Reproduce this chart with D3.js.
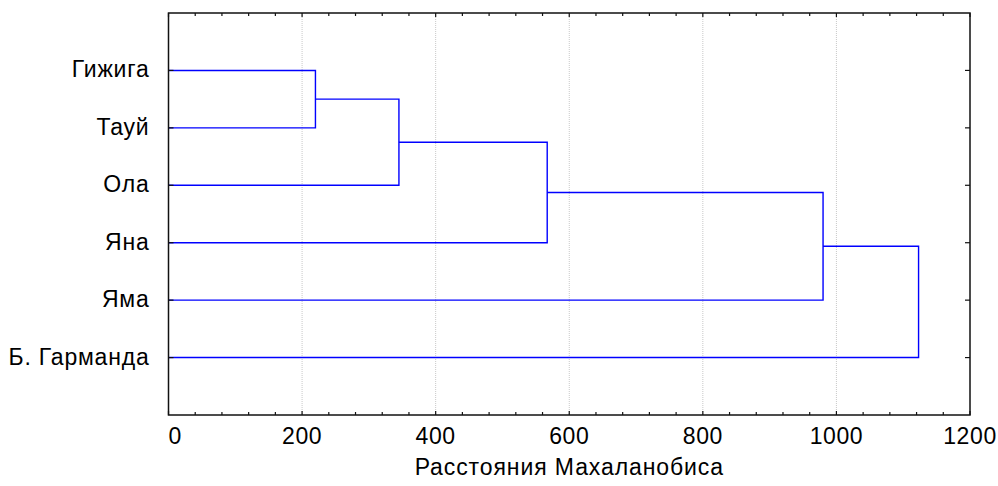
<!DOCTYPE html>
<html>
<head>
<meta charset="utf-8">
<script src="https://cdn.jsdelivr.net/npm/d3@7"></script>
<style>
  body { margin: 0; background: #fff; }
  text { font-family: "Liberation Sans", Arial, sans-serif; fill: #000; }
</style>
</head>
<body>
<svg width="998" height="486"></svg>
<script>
// leaves top to bottom
var leaves = ["Гижига", "Тауй", "Ола", "Яна", "Яма", "Б. Гарманда"];
// merges: [child a, child b, distance]; leaf i = i, merged node k = leaves.length + k
var merges = [[0, 1, 220], [6, 2, 345], [7, 3, 567], [8, 4, 980], [9, 5, 1123]];
var xTicks = [0, 200, 400, 600, 800, 1000, 1200];
var xTitle = "Расстояния Махаланобиса";

main();

function main() {
  var svg = d3.select("svg"),
    margin = { top: 13, right: 28, bottom: 71, left: 168.5 },
    width = +svg.attr("width") - margin.left - margin.right,
    height = +svg.attr("height") - margin.top - margin.bottom;

  var x = d3.scaleLinear().domain([0, 1200]).range([0, width]);
  var y = d3.scaleLinear().domain([0, leaves.length + 1]).range([0, height]);

  var g = svg.append("g").attr("transform", "translate(" + margin.left + "," + margin.top + ")");

  // grid
  g.selectAll(".grid")
    .data(xTicks.filter(function(d) { return d > 0 && d < 1200; }))
    .enter().append("line")
    .attr("x1", function(d) { return x(d); })
    .attr("x2", function(d) { return x(d); })
    .attr("y1", 0).attr("y2", height)
    .attr("stroke", "#c8c8c8")
    .attr("stroke-dasharray", "1,1");

  // node positions
  var nodes = leaves.map(function(d, i) { return { x: 0, y: y(i + 1) }; });
  var links = [];
  merges.forEach(function(m) {
    var a = nodes[m[0]], b = nodes[m[1]];
    var n = { x: x(m[2]), y: (a.y + b.y) / 2 };
    links.push([[a.x, a.y], [n.x, a.y], [n.x, b.y], [b.x, b.y]]);
    nodes.push(n);
  });

  var line = d3.line();
  g.selectAll(".link")
    .data(links)
    .enter().append("path")
    .attr("d", line)
    .attr("fill", "none")
    .attr("stroke", "#0000ff")
    .attr("stroke-width", 1.4);

  // frame
  g.append("rect")
    .attr("width", width).attr("height", height)
    .attr("fill", "none")
    .attr("stroke", "#111")
    .attr("stroke-width", 1.5);

  // minor ticks top/bottom
  var minor = d3.range(0, 1201, 40);
  ["bottom", "top"].forEach(function(side) {
    g.selectAll(".t" + side)
      .data(minor)
      .enter().append("line")
      .attr("x1", function(d) { return x(d); })
      .attr("x2", function(d) { return x(d); })
      .attr("y1", side == "bottom" ? height : 0)
      .attr("y2", function(d) {
        var len = d % 200 == 0 ? 4 : 3;
        return side == "bottom" ? height - len : len;
      })
      .attr("stroke", "#111")
      .attr("stroke-width", 1.2);
  });

  // y ticks left/right
  [0, width].forEach(function(px) {
    g.selectAll(null)
      .data(leaves)
      .enter().append("line")
      .attr("x1", px)
      .attr("x2", px == 0 ? 5 : width - 5)
      .attr("y1", function(d, i) { return y(i + 1); })
      .attr("y2", function(d, i) { return y(i + 1); })
      .attr("stroke", "#111")
      .attr("stroke-width", 1.2);
  });

  // labels
  g.selectAll(".leaf")
    .data(leaves)
    .enter().append("text")
    .attr("x", -19)
    .attr("y", function(d, i) { return y(i + 1) + 7; })
    .attr("text-anchor", "end")
    .style("font-size", "23px")
    .style("letter-spacing", "0.8px")
    .text(function(d) { return d; });

  g.selectAll(".xlab")
    .data(xTicks)
    .enter().append("text")
    .attr("x", function(d) { return x(d); })
    .attr("y", height + 29)
    .attr("text-anchor", function(d) { return d == 0 ? "start" : "middle"; })
    .style("font-size", "23px")
    .style("letter-spacing", "0.6px")
    .text(function(d) { return d; });

  g.append("text")
    .attr("x", width / 2)
    .attr("y", height + 60)
    .attr("text-anchor", "middle")
    .style("font-size", "23px")
    .style("letter-spacing", "0.9px")
    .text(xTitle);
}
</script>
</body>
</html>
